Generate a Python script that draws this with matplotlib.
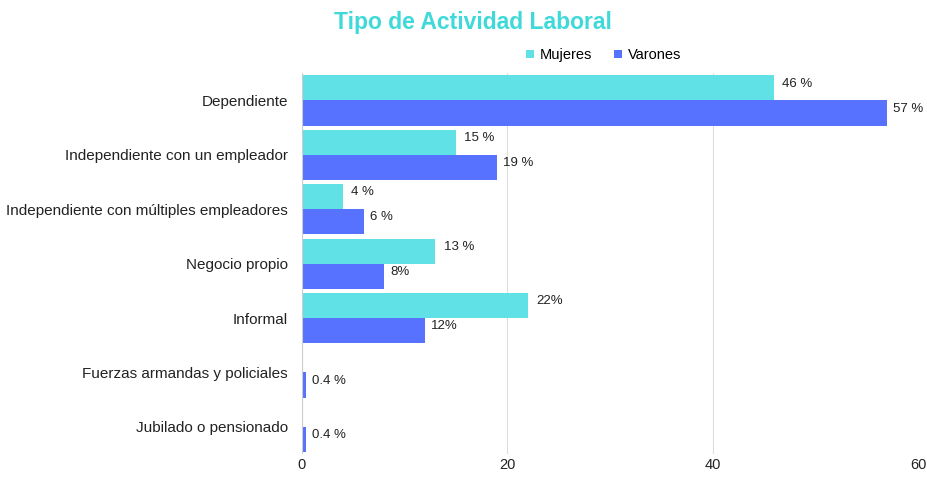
import matplotlib.pyplot as plt
import numpy as np

categories = [
    "Dependiente",
    "Independiente con un empleador",
    "Independiente con múltiples empleadores",
    "Negocio propio",
    "Informal",
    "Fuerzas armandas y policiales",
    "Jubilado o pensionado",
]
mujeres = [46, 15, 4, 13, 22, 0, 0]
varones = [57, 19, 6, 8, 12, 0.4, 0.4]
mujeres_labels = ["46 %", "15 %", "4 %", "13 %", "22%", "", ""]
varones_labels = ["57 %", "19 %", "6 %", "8%", "12%", "0.4 %", "0.4 %"]

C_MUJ = "#5FE1E6"
C_VAR = "#5672FF"

plt.rcParams["font.family"] = ["Liberation Sans", "DejaVu Sans"]

fig = plt.figure(figsize=(9.28, 4.79), dpi=100)
ax = fig.add_axes([0.3254, 0.052, 0.6638, 0.795])

y = np.arange(len(categories))
h = 0.46
ax.barh(y - h / 2, mujeres, height=h, color=C_MUJ, label="Mujeres", zorder=3)
ax.barh(y + h / 2, varones, height=h, color=C_VAR, label="Varones", zorder=3)

for i in range(len(categories)):
    if mujeres_labels[i]:
        ax.text(mujeres[i] + 0.8, y[i] - h / 2 - 0.08, mujeres_labels[i],
                va="center", ha="left", fontsize=9.5, color="#222222")
    if varones_labels[i]:
        ax.text(varones[i] + 0.6, y[i] + h / 2 - 0.08, varones_labels[i],
                va="center", ha="left", fontsize=9.5, color="#222222")

ax.set_xlim(0, 60)
ax.set_ylim(len(categories) - 0.5, -0.5)
ax.set_xticks([0, 20, 40, 60])
ax.set_yticks(y)
ax.set_yticklabels(categories, fontsize=11, color="#222222")
ax.tick_params(axis="x", labelsize=10.5, colors="#222222", length=0, pad=3)
ax.tick_params(axis="y", length=0, pad=10)
ax.grid(axis="x", color="#dddddd", linewidth=0.8, zorder=0)
for s in ax.spines.values():
    s.set_visible(False)
ax.axvline(0, color="#cccccc", linewidth=0.8, zorder=4)

fig.text(0.51, 0.952, "Tipo de Actividad Laboral", ha="center", va="center",
         fontsize=16.5, fontweight="bold", color="#40D9D9")
ax.legend(loc="lower center", bbox_to_anchor=(0.49, 1.01), ncol=2, frameon=False,
          fontsize=10.5, handlelength=0.55, handleheight=0.55, handletextpad=0.4,
          columnspacing=1.5, borderaxespad=0.1)

fig.savefig("out.png", dpi=100)
